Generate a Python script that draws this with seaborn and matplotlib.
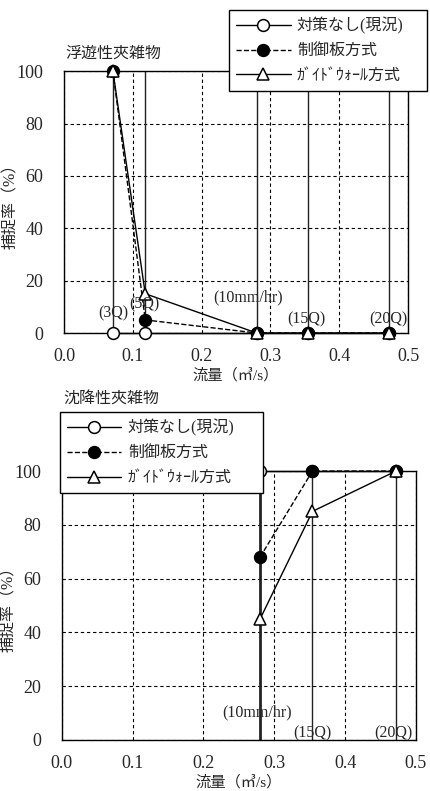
import matplotlib
matplotlib.use("Agg")
import matplotlib.pyplot as plt
import seaborn as sns

sns.set_style("white")
plt.rcParams['font.family'] = ['Liberation Serif', 'Noto Sans CJK JP']
plt.rcParams['axes.unicode_minus'] = False

# データ
flow_top = [0.071, 0.118, 0.28, 0.354, 0.472]
label_top = ['(3Q)', '(5Q)', '(10mm/hr)', '(15Q)', '(20Q)']
none_top = [0, 0, 0, 0, 0]
plate_top = [100, 5, 0, 0, 0]
wall_top = [100, 15, 0, 0, 0]

flow_bot = [0.28, 0.354, 0.472]
label_bot = ['(10mm/hr)', '(15Q)', '(20Q)']
none_bot = [100, 100, 100]
plate_bot = [68, 100, 100]
wall_bot = [45, 85, 100]

series_names = ['対策なし(現況)', '制御板方式', 'ｶﾞｲﾄﾞｳｫｰﾙ方式']
xticks = [0.0, 0.1, 0.2, 0.3, 0.4, 0.5]
yticks = [0, 20, 40, 60, 80, 100]

fig = plt.figure(figsize=(4.3, 7.91), dpi=100)
ax1 = fig.add_axes([0.149, 0.579, 0.800, 0.331])
ax2 = fig.add_axes([0.144, 0.0645, 0.823, 0.340])

styles = [
    dict(marker='o', markerfacecolor='white', linestyle='-'),
    dict(marker='o', markerfacecolor='black', linestyle='--'),
    dict(marker='^', markerfacecolor='white', linestyle='-'),
]


def draw(ax, flows, vals, labels, lab_pos, title, title_off, legend_box,
         thick_first, ylab_x):
    # 流量ごとの縦線
    lws = [1.0] * len(flows)
    if thick_first:
        lws[0] = 2.0
    for f, lw in zip(flows, lws):
        ax.plot([f, f], [0, 100], color='#222222', lw=lw, zorder=2)
    for name, v, st in zip(series_names, vals, styles):
        sns.lineplot(x=flows, y=v, ax=ax, color='black', lw=1.0,
                     marker=st['marker'], markersize=8.5,
                     markerfacecolor=st['markerfacecolor'],
                     markeredgecolor='black', markeredgewidth=1.1,
                     linestyle=st['linestyle'], label=name, zorder=3,
                     sort=False, clip_on=False)
    for t, (lx, ly) in zip(labels, lab_pos):
        ax.text(lx, ly, t, ha='center', va='center', fontsize=11.5, zorder=4)
    ax.set_xlim(0, 0.5)
    ax.set_ylim(0, 100)
    ax.set_xticks(xticks)
    ax.set_yticks(yticks)
    ax.set_xticklabels([f'{t:.1f}' for t in xticks], fontsize=13)
    ax.set_yticklabels([str(t) for t in yticks], fontsize=13)
    ax.tick_params(axis='x', length=0, pad=11)
    ax.tick_params(axis='y', length=0, pad=15)
    ax.grid(True, color='black', linestyle=(0, (3, 2.5)), lw=0.8)
    for s in ax.spines.values():
        s.set_color('black')
        s.set_linewidth(1.0)
        s.set_visible(True)
    ax.set_xlabel('流量（㎥/s）', fontsize=11, labelpad=2)
    ax.set_ylabel('捕捉率（%）', fontsize=11.5)
    ax.yaxis.set_label_coords(ylab_x, 0.5)
    ax.annotate(title, xy=(0, 1), xycoords='axes fraction',
                xytext=(0.7, title_off * 0.72), textcoords='offset points',
                fontsize=11.5, ha='left', va='center')
    leg = ax.legend(loc='upper left', bbox_to_anchor=legend_box,
                    bbox_transform=fig.transFigure, mode='expand',
                    frameon=True, fancybox=False, edgecolor='black',
                    framealpha=1, fontsize=11.5, handlelength=3.4,
                    borderpad=0.45, labelspacing=0.55, handletextpad=0.4,
                    borderaxespad=0)
    leg.get_frame().set_linewidth(1.0)
    leg.set_zorder(10)


draw(ax1, flow_top, [none_top, plate_top, wall_top], label_top,
     [(0.072, 7.6), (0.116, 11), (0.268, 13.7), (0.352, 5.3), (0.471, 5.3)],
     '浮遊性夾雑物', 18, (0.5326, 0.8875, 0.4605, 0.0999), False, -0.131)
draw(ax2, flow_bot, [none_bot, plate_bot, wall_bot], label_bot,
     [(0.276, 10.4), (0.354, 2.6), (0.469, 2.6)],
     '沈降性夾雑物', 71, (0.1395, 0.379, 0.472, 0.0999), True, -0.127)

fig.savefig('out.png', dpi=100)
